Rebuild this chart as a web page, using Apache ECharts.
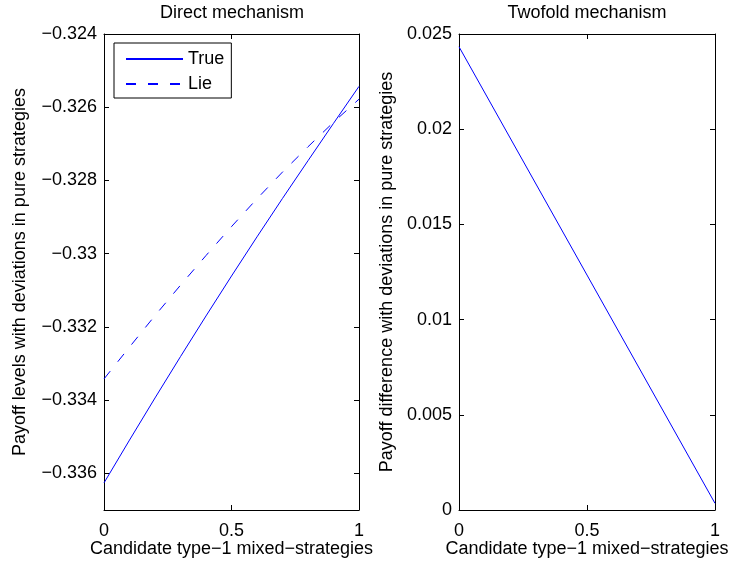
<!DOCTYPE html>
<html>
<head>
<meta charset="utf-8">
<script src="https://cdn.jsdelivr.net/npm/echarts@6/dist/echarts.min.js"></script>
<style>
html,body{margin:0;padding:0;background:#fff;}
#c{width:740px;height:561px;}
</style>
</head>
<body>
<div id="c"></div>
<script>
// ---- data ----
const xValues = [0, 0.1, 0.2, 0.3, 0.4, 0.5, 0.6, 0.7, 0.8, 0.9, 1];
const trueVals = [-0.33626, -0.33509, -0.33394, -0.33281, -0.33170, -0.33061, -0.32954, -0.32849, -0.32746, -0.32644, -0.32543];
const lieVals  = [-0.33342, -0.33255, -0.33169, -0.33086, -0.33005, -0.32926, -0.32850, -0.32777, -0.32708, -0.32641, -0.32578];
const twofoldX = [0, 0.5, 1];
const twofoldVals = [0.02433, 0.01234, 0.00035];
const leftYTicks = [-0.336, -0.334, -0.332, -0.330, -0.328, -0.326, -0.324];
const rightYTicks = [0, 0.005, 0.01, 0.015, 0.02, 0.025];
const xTicks = [0, 0.5, 1];
const seriesNames = ['True', 'Lie'];
const titles = ['Direct mechanism', 'Twofold mechanism'];
const xName = 'Candidate type\u22121 mixed\u2212strategies';
const yNames = ['Payoff levels with deviations in pure strategies', 'Payoff difference with deviations in pure strategies'];

const FONT = 'Liberation Sans, Arial, Helvetica, sans-serif';
const FS = 18;
function fmt(v){
  const s = String(Number(v.toFixed(4)));
  return s.replace('-', '\u2212');
}
const pairs = (xs, ys) => xs.map((x, i) => [x, ys[i]]);

const axisLineStyle = {show: true, onZero: false, lineStyle: {color: '#000', width: 1}};
function xAx(grid, main){
  return {
    type: 'value', gridIndex: grid, min: 0, max: 1,
    position: main ? 'bottom' : 'top',
    axisLine: axisLineStyle,
    axisTick: {show: true, inside: true, length: 5, customValues: xTicks, lineStyle: {color: '#000'}},
    axisLabel: main ? {show: true, customValues: xTicks, formatter: fmt, color: '#000', fontSize: FS, fontFamily: FONT, margin: 12} : {show: false},
    splitLine: {show: false},
    name: main ? xName : '',
    nameLocation: 'middle', nameGap: 30, nameMoveOverlap: false,
    nameTextStyle: {color: '#000', fontSize: FS, fontFamily: FONT}
  };
}
function yAx(grid, main, mn, mx, ticks, name, gap){
  return {
    type: 'value', gridIndex: grid, min: mn, max: mx,
    position: main ? 'left' : 'right',
    axisLine: axisLineStyle,
    axisTick: {show: true, inside: true, length: 5, customValues: ticks, lineStyle: {color: '#000'}},
    axisLabel: main ? {show: true, customValues: ticks, formatter: fmt, color: '#000', fontSize: FS, fontFamily: FONT, margin: 7} : {show: false},
    splitLine: {show: false},
    name: main ? name : '',
    nameLocation: 'middle', nameGap: gap, nameMoveOverlap: false,
    nameTextStyle: {color: '#000', fontSize: FS, fontFamily: FONT}
  };
}

const chart = echarts.init(document.getElementById('c'), null, {renderer: 'canvas'});
chart.setOption({
  animation: false,
  backgroundColor: '#fff',
  title: [
    {text: titles[0], left: 232, top: 4, textAlign: 'center', padding: 0,
     textStyle: {fontSize: FS, fontWeight: 'normal', color: '#000', fontFamily: FONT}},
    {text: titles[1], left: 587, top: 4, textAlign: 'center', padding: 0,
     textStyle: {fontSize: FS, fontWeight: 'normal', color: '#000', fontFamily: FONT}}
  ],
  legend: {
    data: seriesNames,
    orient: 'vertical',
    left: 114, top: 43,
    padding: [7, 7, 5, 11],
    itemGap: 7,
    itemWidth: 57, itemHeight: 14,
    backgroundColor: '#fff',
    borderColor: '#000', borderWidth: 1,
    itemStyle: {color: 'transparent', borderWidth: 0, opacity: 0},
    textStyle: {fontSize: FS, color: '#000', fontFamily: FONT}
  },
  grid: [
    {left: 104, top: 34, width: 255, height: 476, containLabel: false, outerBoundsMode: 'none'},
    {left: 459, top: 34, width: 256, height: 476, containLabel: false, outerBoundsMode: 'none'}
  ],
  xAxis: [xAx(0, true), xAx(0, false), xAx(1, true), xAx(1, false)],
  yAxis: [
    yAx(0, true, -0.337, -0.324, leftYTicks, yNames[0], 75),
    yAx(0, false, -0.337, -0.324, leftYTicks, '', 0),
    yAx(1, true, 0, 0.025, rightYTicks, yNames[1], 63),
    yAx(1, false, 0, 0.025, rightYTicks, '', 0)
  ],
  series: [
    {name: seriesNames[0], type: 'line', xAxisIndex: 0, yAxisIndex: 0, data: pairs(xValues, trueVals),
     symbol: 'none', lineStyle: {color: '#0000ff', width: 1}, itemStyle: {color: '#0000ff'}},
    {name: seriesNames[1], type: 'line', xAxisIndex: 0, yAxisIndex: 0, data: pairs(xValues, lieVals),
     symbol: 'none', lineStyle: {color: '#0000ff', width: 1, type: [10, 12]}, itemStyle: {color: '#0000ff'}},
    {name: 'Twofold', type: 'line', xAxisIndex: 2, yAxisIndex: 2, data: pairs(twofoldX, twofoldVals),
     symbol: 'none', lineStyle: {color: '#0000ff', width: 1}, itemStyle: {color: '#0000ff'}}
  ]
});
</script>
</body>
</html>
